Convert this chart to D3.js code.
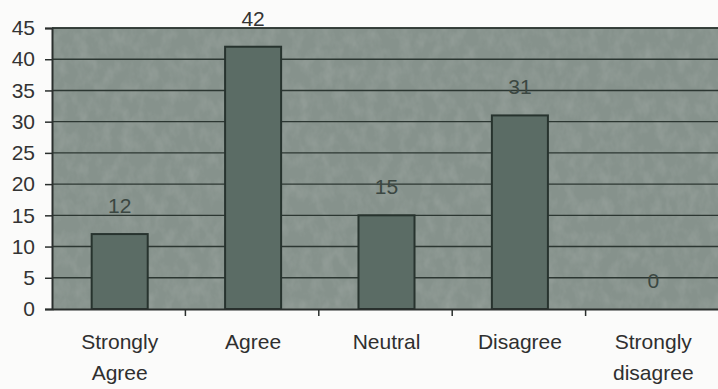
<!DOCTYPE html>
<html>
<head>
<meta charset="utf-8">
<script src="https://cdn.jsdelivr.net/npm/d3@7"></script>
<style>
  html, body { margin: 0; padding: 0; background: #fbfbfa; }
  svg { display: block; }
  text { font-family: "Liberation Sans", Arial, sans-serif; }
</style>
</head>
<body>
<svg id="chart" width="718" height="389"></svg>
<script>
const categories = ["Strongly Agree", "Agree", "Neutral", "Disagree", "Strongly disagree"];
const categoryLines = [["Strongly", "Agree"], ["Agree"], ["Neutral"], ["Disagree"], ["Strongly", "disagree"]];
const values = [12, 42, 15, 31, 0];
const yTicks = [0, 5, 10, 15, 20, 25, 30, 35, 40, 45];

const W = 718, H = 389;
const plot = { left: 52, right: 719, top: 28, bottom: 309 };

const svg = d3.select("#chart");

const defs = svg.append("defs");
const f = defs.append("filter").attr("id", "grain").attr("x", 0).attr("y", 0).attr("width", 1).attr("height", 1);
f.append("feTurbulence").attr("type", "fractalNoise").attr("baseFrequency", "0.09 0.06").attr("numOctaves", 3).attr("seed", 7).attr("result", "n");
f.append("feColorMatrix").attr("in", "n").attr("type", "matrix")
  .attr("values", "0 0 0 0 0.55  0 0 0 0 0.58  0 0 0 0 0.56  0.9 0 0 0 -0.35");

const x = d3.scaleBand().domain(categories).range([plot.left, plot.right])
  .paddingInner(0.58).paddingOuter(0.29);
const y = d3.scaleLinear().domain([0, 45]).range([plot.bottom, plot.top]);

// plot background
svg.append("rect").attr("x", plot.left).attr("y", plot.top)
  .attr("width", plot.right - plot.left).attr("height", plot.bottom - plot.top)
  .attr("fill", "#86928c");
svg.append("rect").attr("x", plot.left).attr("y", plot.top)
  .attr("width", plot.right - plot.left).attr("height", plot.bottom - plot.top)
  .attr("filter", "url(#grain)").attr("opacity", 0.45);

// gridlines
svg.append("g").selectAll("line").data(yTicks.filter(d => d > 0)).join("line")
  .attr("x1", plot.left).attr("x2", plot.right)
  .attr("y1", d => y(d)).attr("y2", d => y(d))
  .attr("stroke", "#2c3732").attr("stroke-width", 1.4);

// bars
svg.append("g").selectAll("rect").data(values).join("rect")
  .attr("x", (d, i) => x(categories[i]) + 1)
  .attr("y", d => y(d))
  .attr("width", x.bandwidth())
  .attr("height", d => y(0) - y(d))
  .attr("fill", "#5b6c65")
  .attr("stroke", "#27332e").attr("stroke-width", 2);

// value labels
svg.append("g").selectAll("text").data(values).join("text")
  .attr("x", (d, i) => x(categories[i]) + x.bandwidth() / 2 + 1)
  .attr("y", d => y(d) - 21)
  .attr("text-anchor", "middle")
  .attr("font-size", 21)
  .attr("fill", (d) => y(d) - 21 < plot.top ? "#333" : "#3b4742")
  .text(d => d);

// y axis
const yAxis = d3.axisLeft(y).tickValues(yTicks).tickSize(7).tickPadding(10);
const gy = svg.append("g").attr("transform", `translate(${plot.left},0)`).call(yAxis);
gy.select(".domain").attr("stroke", "#2a2f2d").attr("stroke-width", 2);
gy.selectAll(".tick line").attr("stroke", "#2a2f2d").attr("stroke-width", 1.5);
gy.selectAll(".tick text").attr("font-size", 21).attr("fill", "#333")
  .attr("font-family", "Liberation Sans, Arial, sans-serif");

// x axis
const xAxis = d3.axisBottom(x).tickSize(0).tickPadding(0).tickFormat(() => "");
const gx = svg.append("g").attr("transform", `translate(0,${plot.bottom})`).call(xAxis);
gx.select(".domain").attr("stroke", "#2a2f2d").attr("stroke-width", 2);
gx.selectAll(".tick text").remove();
// tick marks between categories
const boundaries = categories.slice(1).map(c => x(c) - x.step() * x.paddingInner() / 2);
gx.selectAll("line.sep").data(boundaries).join("line").attr("class", "sep")
  .attr("x1", d => d).attr("x2", d => d).attr("y1", 0).attr("y2", 7)
  .attr("stroke", "#2a2f2d").attr("stroke-width", 1.5);

// category labels
const lbl = svg.append("g").selectAll("text").data(categories).join("text")
  .attr("x", d => x(d) + x.bandwidth() / 2 + 1)
  .attr("y", plot.bottom + 40)
  .attr("text-anchor", "middle")
  .attr("font-size", 21)
  .attr("fill", "#2f2f2f");
lbl.each(function(d, i) {
  d3.select(this).selectAll("tspan").data(categoryLines[i]).join("tspan")
    .attr("x", x(d) + x.bandwidth() / 2 + 1)
    .attr("dy", (t, j) => j === 0 ? 0 : 31)
    .text(t => t);
});

// top border
svg.append("line").attr("x1", plot.left).attr("x2", plot.right)
  .attr("y1", plot.top).attr("y2", plot.top)
  .attr("stroke", "#2c3732").attr("stroke-width", 1.6);
</script>
</body>
</html>
